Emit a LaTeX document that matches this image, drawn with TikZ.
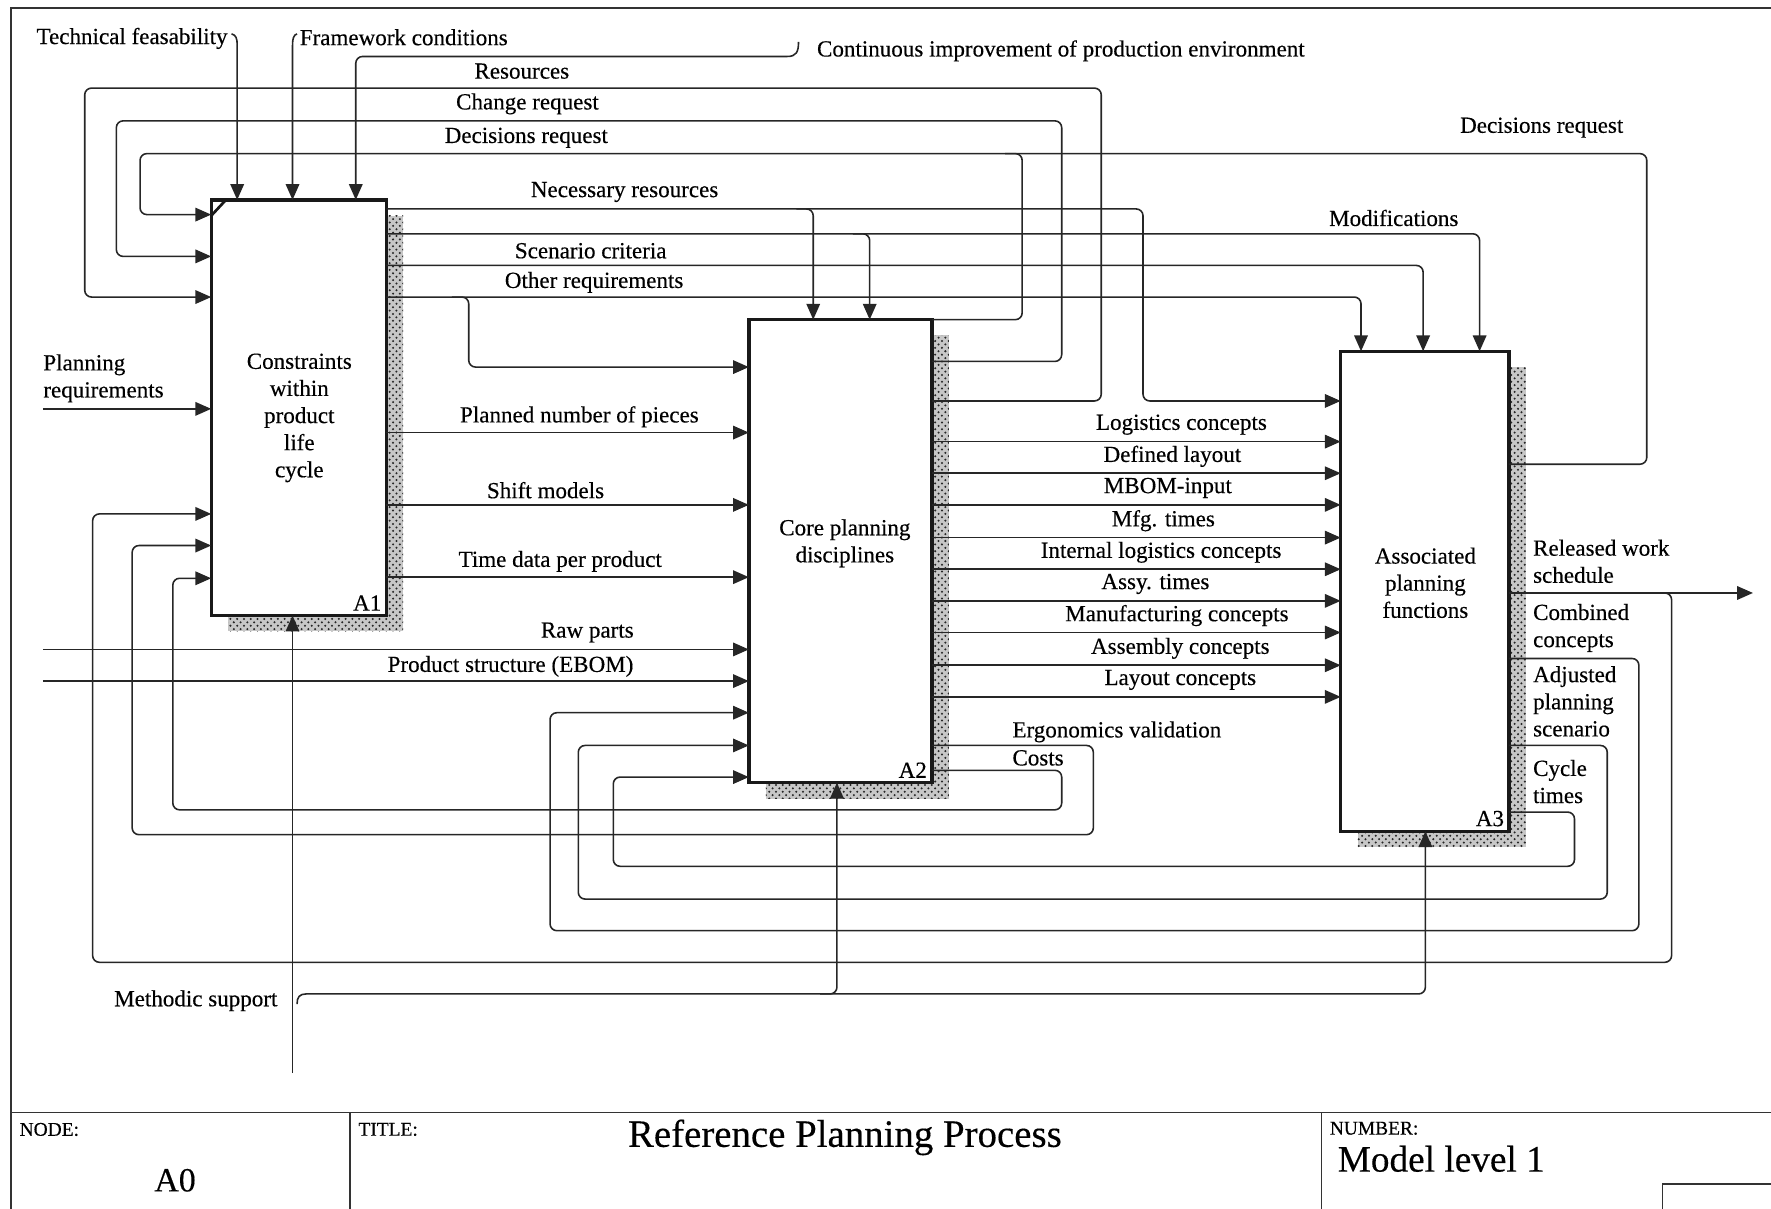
\documentclass[tikz,border=0pt]{standalone}
\usepackage{fontspec}
\setmainfont{Liberation Serif}[FakeBold=0.35]
\usetikzlibrary{arrows.meta,patterns}
\begin{document}
\begin{tikzpicture}[x=0.5pt,y=-0.5pt,
  frameline/.style={draw=black!80, line width=0.8pt},
  flow/.style={draw=black!85, line width=0.7pt},
  arr/.style={flow, -{Triangle[length=7pt,width=6pt]}},
  rc/.style={rounded corners=3pt},
  box/.style={draw=black!90, line width=1.5pt, fill=white, inner sep=0pt, outer sep=0pt, anchor=north west},
  shade/.style={pattern=crosshatch dots, pattern color=black!85},
  lbl/.style={inner sep=0pt, font=\fontsize{10.2}{12}\selectfont, text=black},
  head/.style={inner sep=0pt, font=\fontsize{8.6}{10}\selectfont, text=black, anchor=west},
  code/.style={inner sep=0pt, font=\fontsize{10.2}{12}\selectfont, text=black, anchor=south east},
]
\useasboundingbox (0,0) rectangle (1568,1070);

% drawing frame and title block
\draw[frameline] (10,1070) -- (10,7) -- (1568,7);
\draw[frameline] (10,985) -- (1568,985);
\draw[frameline] (310,985) -- (310,1070);
\draw[frameline] (1170,985) -- (1170,1070);
\draw[frameline] (1472,1070) -- (1472,1048) -- (1568,1048);
\node[head] (nodehead) at (17,1000) {NODE:};
\node[inner sep=0pt, font=\fontsize{15}{18}\selectfont] (nodeval) at (155,1045) {A0};
\node[head] (titlehead) at (317,1000) {TITLE:};
\node[inner sep=0pt, font=\fontsize{17.2}{20}\selectfont] (titleval) at (748,1007) {Reference Planning Process};
\node[head] (numhead) at (1177,999) {NUMBER:};
\node[inner sep=0pt, font=\fontsize{16.5}{20}\selectfont, anchor=west] (numval) at (1184,1026) {Model level 1};

% activity boxes with hatched shadows
\node[box, minimum width=77.5pt, minimum height=184pt] (A1) at (187,177) {};
\node[box, minimum width=81pt, minimum height=205pt] (A2) at (663,283) {};
\node[box, minimum width=74.5pt, minimum height=212.5pt] (A3) at (1187,311) {};
\foreach \b in {A1,A2,A3}{
  \fill[black!22] ([shift={(15,14)}]\b.north west) rectangle ([shift={(15,14)}]\b.south east);
  \fill[shade] ([shift={(15,14)}]\b.north west) rectangle ([shift={(15,14)}]\b.south east);
  \fill[white] (\b.north west) rectangle (\b.south east);
  \draw[draw=black!90, line width=1.5pt] (\b.north west) rectangle (\b.south east);
}
\draw[draw=black!90, line width=1.2pt] ([shift={(0,14)}]A1.north west) -- ([shift={(13,0)}]A1.north west);

\node[lbl, align=center] (t1) at (265,370) {Constraints\\within\\product\\life\\cycle};
\node[lbl, align=center] (t2) at (748,481) {Core planning\\disciplines};
\node[lbl, align=center] (t3) at (1262,516) {Associated\\planning\\functions};
\node[code] (c1) at ([shift={(-4,-4)}]A1.south east) {A1};
\node[code] (c2) at ([shift={(-4,-4)}]A2.south east) {A2};
\node[code] (c3) at ([shift={(-4,-4)}]A3.south east) {A3};

% controls entering A1 from above
\draw[arr] (205,30) .. controls (209,31) and (210,34) .. (210,40) -- (210,0 |- A1.north);
\draw[arr] (263,30) .. controls (260,31) and (259,34) .. (259,40) -- (259,0 |- A1.north);
\draw[arr] (707,37) .. controls (707,46) and (705,50) .. (697,50) [rounded corners=3pt] -- (315,50) -- (315,0 |- A1.north);
\node[lbl, anchor=west] (lTech) at (32,34) {Technical feasability};
\node[lbl, anchor=west] (lFrame) at (265,33) {Framework conditions};
\node[lbl, anchor=west] (lCont) at (723,45) {Continuous improvement of production environment};

% feedback loops returning to A1 from above
\draw[arr, rc] (A2.east |- 0,355) -- (975,355) -- (975,78) -- (75,78) -- (75,263) -- (A1.west |- 0,263);
\draw[arr, rc] (A2.east |- 0,320) -- (940,320) -- (940,107) -- (103,107) -- (103,227) -- (A1.west |- 0,227);
\draw[arr, rc] (A3.east |- 0,411) -- (1458,411) -- (1458,136) -- (124,136) -- (124,190) -- (A1.west |- 0,190);
\draw[flow, rc] (A2.north east) -- (905,283) -- (905,136) -- (890,136);
\node[lbl] (lRes) at (462,63) {Resources};
\node[lbl] (lChg) at (467,92) {Change request};
\node[lbl] (lDec) at (466,122) {Decisions request};
\node[lbl] (lDec2) at (1365,113) {Decisions request};

% input from the left into A1
\draw[arr] (38,362) -- (A1.west |- 0,362);
\node[lbl, anchor=west, align=left] (lPlan) at (38,335) {Planning\\requirements};

% outputs of A1 running to A2 and A3
\draw[arr, rc] (A1.east |- 0,185) -- (1012,185) -- (1012,355) -- (A3.west |- 0,355);
\draw[arr, rc] (705,185) -- (720,185) -- (720,0 |- A2.north);
\draw[arr, rc] (A1.east |- 0,207) -- (1310,207) -- (1310,0 |- A3.north);
\draw[arr, rc] (755,207) -- (770,207) -- (770,0 |- A2.north);
\draw[arr, rc] (A1.east |- 0,235) -- (1260,235) -- (1260,0 |- A3.north);
\draw[arr, rc] (A1.east |- 0,263) -- (1205,263) -- (1205,0 |- A3.north);
\draw[arr, rc] (400,263) -- (415,263) -- (415,325) -- (A2.west |- 0,325);
\node[lbl] (lNec) at (553,170) {Necessary resources};
\node[lbl] (lMod) at (1234,193) {Modifications};
\node[lbl] (lScen) at (523,222) {Scenario criteria};
\node[lbl] (lOther) at (526,250) {Other requirements};

\draw[arr] (A1.east |- 0,383) -- (A2.west |- 0,383);
\draw[arr] (A1.east |- 0,447) -- (A2.west |- 0,447);
\draw[arr] (A1.east |- 0,511) -- (A2.west |- 0,511);
\node[lbl] (lPieces) at (513,369) {Planned number of pieces};
\node[lbl] (lShift) at (483,434) {Shift models};
\node[lbl] (lTime) at (496,497) {Time data per product};

% inputs from the left into A2
\draw[arr] (38,575) -- (A2.west |- 0,575);
\draw[arr] (38,603) -- (A2.west |- 0,603);
\node[lbl] (lRaw) at (520,560) {Raw parts};
\node[lbl] (lEbom) at (452,590) {Product structure (EBOM)};

% outputs of A2 into A3
\foreach \yy/\txt/\xx in {391/Logistics concepts/1046, 419/Defined layout/1038, 447/MBOM-input/1034,
  476/Mfg. times/1030, 504/Internal logistics concepts/1028, 532/Assy. times/1023,
  560/Manufacturing concepts/1042, 589/Assembly concepts/1045, 617/Layout concepts/1045}{
  \draw[arr] (A2.east |- 0,\yy) -- (A3.west |- 0,\yy);
  \node[lbl] at (\xx,\yy-15) {\txt};
}

% feedback from A2 back to A1 below
\draw[arr, rc] (A2.east |- 0,660) -- (968,660) -- (968,739) -- (117,739) -- (117,483) -- (A1.west |- 0,483);
\draw[arr, rc] (A2.east |- 0,682) -- (940,682) -- (940,717) -- (153,717) -- (153,512) -- (A1.west |- 0,512);
\node[lbl, anchor=west] (lErgo) at (896,648) {Ergonomics validation};
\node[lbl, anchor=west] (lCost) at (896,671) {Costs};

% outputs of A3
\draw[arr] (A3.east |- 0,525) -- (1552,525);
\draw[arr, rc] (1465,525) -- (1480,525) -- (1480,852) -- (82,852) -- (82,455) -- (A1.west |- 0,455);
\draw[arr, rc] (A3.east |- 0,583) -- (1451,583) -- (1451,824) -- (487,824) -- (487,631) -- (A2.west |- 0,631);
\draw[arr, rc] (A3.east |- 0,660) -- (1423,660) -- (1423,796) -- (512,796) -- (512,660) -- (A2.west |- 0,660);
\draw[arr, rc] (A3.east |- 0,719) -- (1394,719) -- (1394,767) -- (543,767) -- (543,688) -- (A2.west |- 0,688);
\node[lbl, anchor=west, align=left] (lRel) at (1357,497) {Released work\\schedule};
\node[lbl, anchor=west, align=left] (lComb) at (1357,556) {Combined\\concepts};
\node[lbl, anchor=west, align=left] (lAdj) at (1357,621) {Adjusted\\planning\\scenario};
\node[lbl, anchor=west, align=left] (lCyc) at (1357,692) {Cycle\\times};

% mechanism: methodic support
\draw[arr] (259,950) -- (259,0 |- A1.south);
\draw[arr] (263,889) .. controls (263,883) and (265,880) .. (271,880) [rounded corners=3pt] -- (1262,880) -- (1262,0 |- A3.south);
\draw[arr, rc] (726,880) -- (741,880) -- (741,0 |- A2.south);
\node[lbl, anchor=east] (lMeth) at (246,886) {Methodic support};
\end{tikzpicture}
\end{document}
